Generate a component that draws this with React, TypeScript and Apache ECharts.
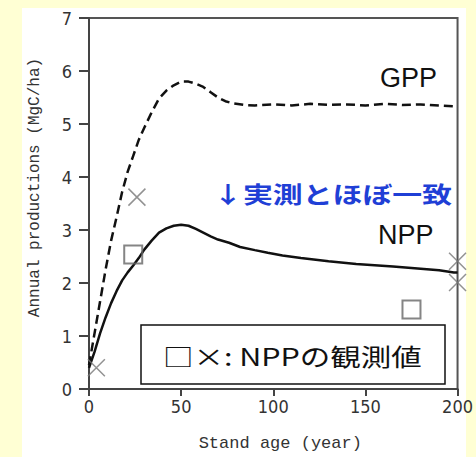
import React, { useEffect, useRef } from "react";
import * as echarts from "echarts";

const gppYears = [0, 3, 6, 9, 12, 15, 18, 21, 24, 27, 30, 34, 38, 42, 46, 50, 54, 58, 62, 66, 70, 74, 78, 84, 90, 100, 110, 120, 130, 140, 150, 160, 170, 180, 190, 200];
const gppValues = [0.45, 1.05, 1.65, 2.25, 2.8, 3.25, 3.72, 4.1, 4.4, 4.7, 4.93, 5.22, 5.48, 5.63, 5.73, 5.8, 5.8, 5.76, 5.7, 5.6, 5.5, 5.43, 5.39, 5.36, 5.35, 5.37, 5.35, 5.38, 5.36, 5.37, 5.35, 5.38, 5.36, 5.37, 5.35, 5.33];

const nppYears = [0, 3, 6, 9, 12, 15, 18, 21, 24, 27, 30, 34, 38, 42, 46, 50, 54, 58, 62, 66, 70, 76, 82, 90, 97, 105, 115, 130, 145, 165, 180, 190, 198, 200];
const nppValues = [0.4, 0.7, 1.05, 1.35, 1.62, 1.85, 2.05, 2.2, 2.33, 2.47, 2.63, 2.8, 2.95, 3.03, 3.08, 3.1, 3.08, 3.02, 2.95, 2.88, 2.82, 2.76, 2.68, 2.62, 2.57, 2.52, 2.47, 2.41, 2.36, 2.31, 2.27, 2.24, 2.2, 2.2];

const crossObs: [number, number][] = [[4, 0.4], [26, 3.62], [200, 2.41], [200, 2.01]];
const squareObs: [number, number][] = [[24, 2.54], [175, 1.5]];

const xTicks = [0, 50, 100, 150, 200];
const yTicks = [0, 1, 2, 3, 4, 5, 6, 7];

const gppLabel = "GPP";
const nppLabel = "NPP";
const noteText = "↓実測とほぼ一致";
const legendText = "□×: NPPの観測値";
const xName = "Stand age (year)";
const yName = "Annual productions (MgC/ha)";

const tickFont = "'Liberation Sans Narrow', 'DejaVu Sans Condensed', 'Liberation Sans', sans-serif";
const monoFont = "'Liberation Mono', 'DejaVu Sans Mono', monospace";
const cjkFont = "'Noto Sans CJK JP', 'Noto Sans', sans-serif";

export default function App() {
  const ref = useRef<HTMLDivElement>(null);
  useEffect(() => {
    if (!ref.current) return;
    const chart = echarts.init(ref.current, undefined, { renderer: "svg" });
    const crossPath = "path://M0,0L10,10M10,0L0,10";
    chart.setOption({
      animation: false,
      backgroundColor: "transparent",
      grid: {
        left: 89,
        top: 18,
        right: 15,
        bottom: 67,
        show: true,
        borderColor: "#555",
        borderWidth: 2,
        backgroundColor: "transparent",
      },
      xAxis: {
        type: "value",
        min: xTicks[0],
        max: xTicks[xTicks.length - 1],
        interval: 50,
        name: xName,
        nameLocation: "middle",
        nameGap: 46,
        nameTextStyle: { fontFamily: monoFont, fontSize: 17, color: "#333", padding: [0, 0, 0, 14] },
        axisLine: { lineStyle: { color: "#444", width: 2 } },
        axisTick: { show: true, length: 7, lineStyle: { color: "#444", width: 2 } },
        axisLabel: { fontFamily: tickFont, fontSize: 18, color: "#333", margin: 8 },
        splitLine: { show: false },
      },
      yAxis: {
        type: "value",
        min: yTicks[0],
        max: yTicks[yTicks.length - 1],
        interval: 1,
        name: yName,
        nameLocation: "middle",
        nameGap: 46,
        nameTextStyle: { fontFamily: monoFont, fontSize: 16, color: "#333", padding: [0, 0, 0, 32] },
        axisLine: { show: true, lineStyle: { color: "#444", width: 2 } },
        axisTick: { show: true, length: 10, lineStyle: { color: "#444", width: 2 } },
        axisLabel: { fontFamily: tickFont, fontSize: 18, color: "#333", margin: 17 },
        splitLine: { show: false },
      },
      graphic: [
        {
          type: "rect",
          z: -100,
          silent: true,
          shape: { x: 22, y: 8, width: 444, height: 449 },
          style: { fill: "#ffffff" },
        },
        {
          type: "text",
          z: 20,
          x: 380,
          y: 78,
          style: { text: gppLabel, fontFamily: "'Liberation Sans', Arial, sans-serif", fontSize: 27, fill: "#111", textAlign: "left", textVerticalAlign: "middle" },
        },
        {
          type: "text",
          z: 20,
          x: 378,
          y: 235,
          style: { text: nppLabel, fontFamily: "'Liberation Sans', Arial, sans-serif", fontSize: 27, fill: "#111", textAlign: "left", textVerticalAlign: "middle" },
        },
        {
          type: "text",
          z: 20,
          x: 213,
          y: 193,
          scaleX: 1.3,
          style: { text: noteText, fontFamily: cjkFont, fontWeight: "bold", fontSize: 23, fill: "#1f3fd6", textAlign: "left", textVerticalAlign: "middle" },
        },
        {
          type: "rect",
          z: 20,
          shape: { x: 141, y: 325, width: 304, height: 59 },
          style: { fill: "#ffffff", stroke: "#111", lineWidth: 1.5 },
        },
        {
          type: "text",
          z: 21,
          x: 163,
          y: 356,
          scaleX: 1.27,
          style: { text: legendText, fontFamily: cjkFont, fontSize: 24, fill: "#111", textAlign: "left", textVerticalAlign: "middle" },
        },
      ],
      series: [
        {
          type: "line",
          name: "GPP",
          data: gppYears.map((x, i) => [x, gppValues[i]]),
          showSymbol: false,
          symbol: "none",
          lineStyle: { color: "#111", width: 2.5, type: [9, 5] },
        },
        {
          type: "line",
          name: "NPP",
          data: nppYears.map((x, i) => [x, nppValues[i]]),
          showSymbol: false,
          symbol: "none",
          lineStyle: { color: "#111", width: 2.5 },
        },
        {
          type: "scatter",
          name: "cross",
          clip: false,
          z: 5,
          data: crossObs,
          symbol: crossPath,
          symbolSize: 17,
          itemStyle: { color: "transparent", borderColor: "#777", borderWidth: 1.5 },
        },
        {
          type: "scatter",
          name: "square",
          clip: false,
          z: 5,
          data: squareObs,
          symbol: "rect",
          symbolSize: 18,
          itemStyle: { color: "rgba(255,255,255,0)", borderColor: "#666", borderWidth: 2 },
        },
      ],
    });
    return () => chart.dispose();
  }, []);
  return (
    <div style={{ position: "fixed", left: 0, top: 0, width: 476, height: 457, background: "#ffffd4" }}>
      <div ref={ref} style={{ width: 476, height: 457 }} />
    </div>
  );
}
